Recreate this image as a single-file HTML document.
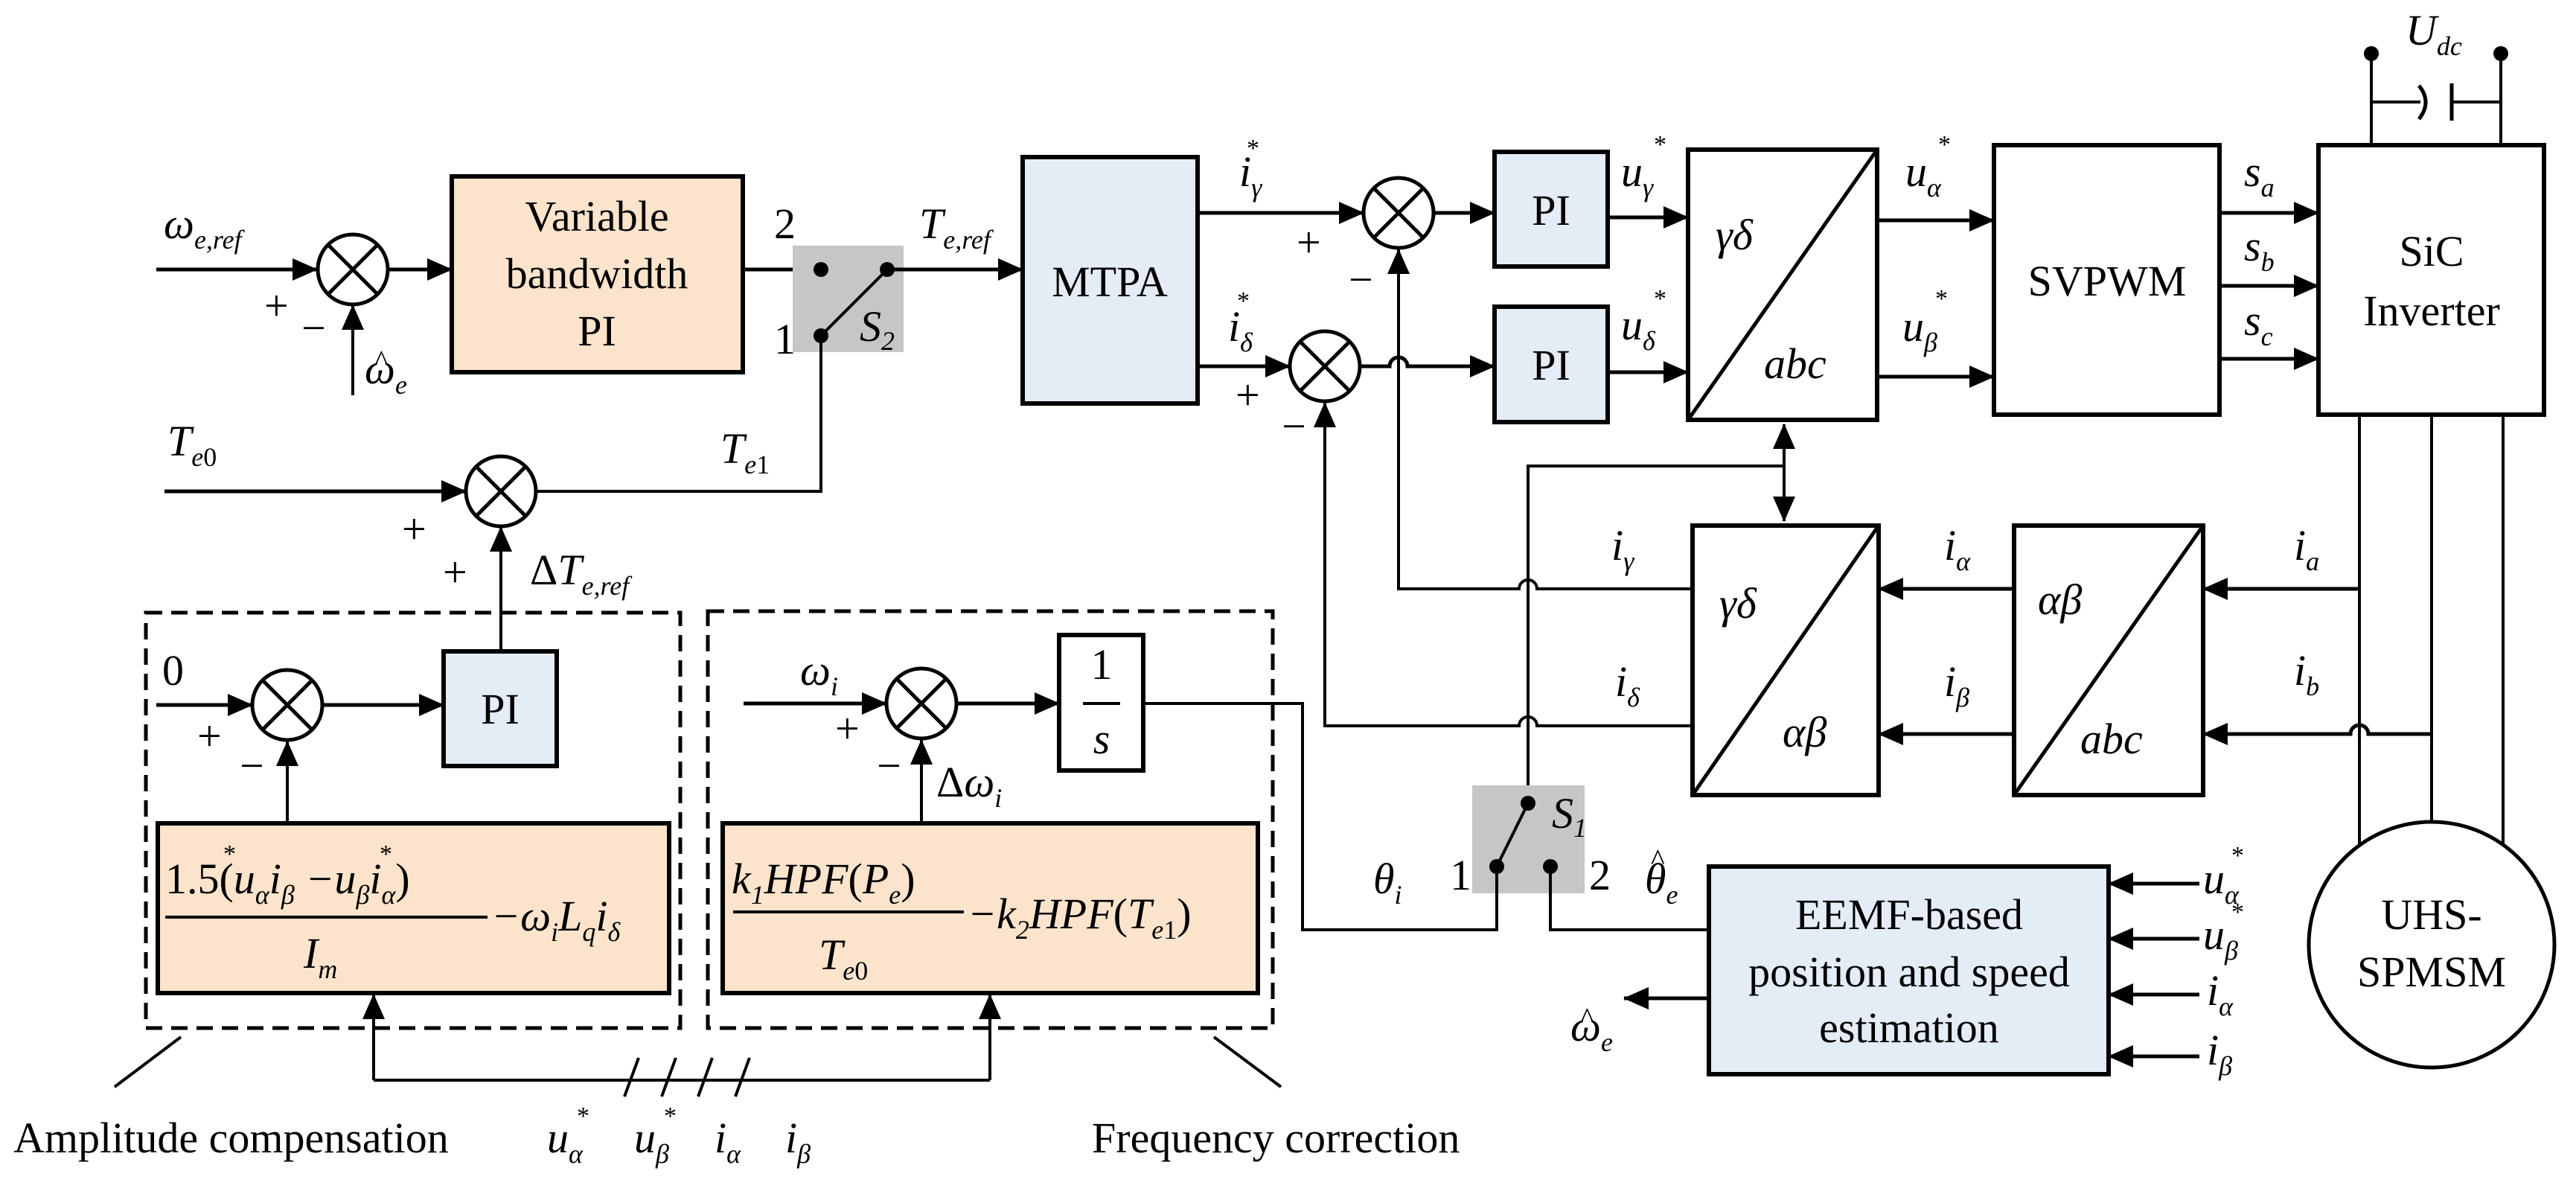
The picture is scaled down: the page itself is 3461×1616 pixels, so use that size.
<!DOCTYPE html>
<html><head><meta charset="utf-8"><style>
html,body{margin:0;padding:0;background:#fff}
svg{display:block}
text{font-family:"Liberation Serif","Times New Roman",serif;fill:#000}
.r{font-size:58px}
.m{font-size:58px;font-style:italic}
.s{font-size:36px;font-style:italic}
.st{font-size:34px}
.h{font-size:40px}
.l{stroke:#000;stroke-width:5;fill:none}
.t{stroke:#000;stroke-width:4;fill:none}
.b{stroke:#000;stroke-width:6}
</style></head><body>
<svg width="3461" height="1616" viewBox="0 0 3461 1616" xmlns="http://www.w3.org/2000/svg">
<defs>
<marker id="a" markerUnits="userSpaceOnUse" markerWidth="34" markerHeight="30" refX="33" refY="15" orient="auto"><path d="M0,0 L34,15 L0,30 z" fill="#000"/></marker>
<marker id="as" markerUnits="userSpaceOnUse" markerWidth="34" markerHeight="30" refX="1" refY="15" orient="auto"><path d="M34,0 L0,15 L34,30 z" fill="#000"/></marker>
<g id="sum"><circle r="47" fill="#fff" stroke="#000" stroke-width="5"/><path d="M-33,-33 L33,33 M-33,33 L33,-33" stroke="#000" stroke-width="5"/></g>
</defs>

<!-- top speed loop -->
<path class="l" d="M210,362 H426" marker-end="url(#a)"/>
<use href="#sum" x="474" y="362"/>
<text class="m" x="220" y="320">ω<tspan class="s" dy="14">e,ref</tspan></text>
<text class="r" x="355" y="430">+</text><text class="r" x="405" y="460">−</text>
<path class="t" d="M474,531 V410" marker-end="url(#a)"/>
<text class="m" x="490" y="515">ω<tspan class="s" dy="14">e</tspan></text><text class="h" x="503" y="498">^</text>
<path class="l" d="M522,362 H607" marker-end="url(#a)"/>
<rect x="607" y="237" width="391" height="263" fill="#fce4cc" class="b"/>
<text class="r" x="802" y="310" text-anchor="middle">Variable</text>
<text class="r" x="802" y="387" text-anchor="middle">bandwidth</text>
<text class="r" x="802" y="464" text-anchor="middle">PI</text>
<path class="l" d="M998,362 H1103"/>
<rect x="1065" y="330" width="149" height="143" fill="#c6c6c6"/>
<path class="t" d="M1103,451 L1192,362"/>
<circle cx="1103" cy="362" r="10"/><circle cx="1192" cy="362" r="10"/><circle cx="1103" cy="451" r="10"/>
<text class="r" x="1040" y="320">2</text><text class="r" x="1040" y="475">1</text>
<text class="m" x="1155" y="458">S<tspan class="s" dy="12" font-style="normal">2</tspan></text>
<path class="l" d="M1192,362 H1374" marker-end="url(#a)"/>
<text class="m" x="1235" y="320">T<tspan class="s" dy="14">e,ref</tspan></text>
<path class="t" d="M1103,451 V660 H721"/>
<path class="l" d="M221,660 H626" marker-end="url(#a)"/>
<use href="#sum" x="673" y="660"/>
<text class="m" x="225" y="612">T<tspan class="s" dy="14">e<tspan font-style="normal">0</tspan></tspan></text>
<text class="m" x="968" y="622">T<tspan class="s" dy="14">e<tspan font-style="normal">1</tspan></tspan></text>
<text class="r" x="540" y="730">+</text><text class="r" x="595" y="788">+</text>
<path class="t" d="M673,875 V708" marker-end="url(#a)"/>
<text class="m" x="712" y="785"><tspan font-style="normal">Δ</tspan>T<tspan class="s" dy="14">e,ref</tspan></text>

<!-- MTPA & current loops -->
<rect x="1374" y="211" width="235" height="331" fill="#e4ecf6" class="b"/>
<text class="r" x="1491" y="398" text-anchor="middle">MTPA</text>
<path class="l" d="M1609,286 H1832" marker-end="url(#a)"/>
<text class="m" x="1665" y="250">i<tspan class="s" dy="14">γ</tspan></text><text class="st" x="1675" y="210">*</text>
<path class="l" d="M1609,492 H1733" marker-end="url(#a)"/>
<text class="m" x="1650" y="458">i<tspan class="s" dy="14">δ</tspan></text><text class="st" x="1662" y="415">*</text>
<text class="r" x="1660" y="550">+</text><text class="r" x="1742" y="345">+</text>
<text class="r" x="1812" y="395">−</text><text class="r" x="1722" y="592">−</text>
<use href="#sum" x="1879" y="286"/>
<use href="#sum" x="1780" y="492"/>
<path class="l" d="M1927,286 H2008" marker-end="url(#a)"/>
<path class="l" d="M1828,492 H1867 a12,12 0 0 1 24,0 H2008" marker-end="url(#a)"/>
<rect x="2008" y="204" width="152" height="154" fill="#e4ecf6" class="b"/>
<rect x="2008" y="412" width="152" height="155" fill="#e4ecf6" class="b"/>
<text class="r" x="2084" y="302" text-anchor="middle">PI</text>
<text class="r" x="2084" y="510" text-anchor="middle">PI</text>
<path class="l" d="M2160,292 H2268" marker-end="url(#a)"/>
<path class="l" d="M2160,500 H2268" marker-end="url(#a)"/>
<text class="m" x="2178" y="250">u<tspan class="s" dy="14">γ</tspan></text><text class="st" x="2222" y="205">*</text>
<text class="m" x="2178" y="456">u<tspan class="s" dy="14">δ</tspan></text><text class="st" x="2222" y="412">*</text>
<rect x="2268" y="201" width="254" height="363" fill="#fff" class="b"/>
<path class="l" d="M2268,564 L2522,201"/>
<text class="m" x="2305" y="335">γδ</text><text class="m" x="2370" y="508">abc</text>
<path class="l" d="M2522,296 H2679" marker-end="url(#a)"/>
<path class="l" d="M2522,506 H2679" marker-end="url(#a)"/>
<text class="m" x="2560" y="250">u<tspan class="s" dy="14">α</tspan></text><text class="st" x="2604" y="205">*</text>
<text class="m" x="2556" y="458">u<tspan class="s" dy="14">β</tspan></text><text class="st" x="2600" y="412">*</text>
<rect x="2679" y="195" width="303" height="362" fill="#fff" class="b"/>
<text class="r" x="2831" y="397" text-anchor="middle">SVPWM</text>
<path class="l" d="M2982,286 H3115" marker-end="url(#a)"/>
<path class="l" d="M2982,384 H3115" marker-end="url(#a)"/>
<path class="l" d="M2982,482 H3115" marker-end="url(#a)"/>
<text class="m" x="3015" y="250">s<tspan class="s" dy="14">a</tspan></text>
<text class="m" x="3015" y="350">s<tspan class="s" dy="14">b</tspan></text>
<text class="m" x="3015" y="450">s<tspan class="s" dy="14">c</tspan></text>
<rect x="3115" y="195" width="303" height="362" fill="#fff" class="b"/>
<text class="r" x="3267" y="357" text-anchor="middle">SiC</text>
<text class="r" x="3267" y="437" text-anchor="middle">Inverter</text>
<!-- Udc -->
<path class="t" d="M3186,72 V195 M3360,72 V195 M3186,137 H3252 M3294,137 H3360"/>
<path class="l" d="M3250,115 Q3268,137 3250,160"/>
<path class="l" d="M3294,112 V162"/>
<circle cx="3186" cy="72" r="10"/><circle cx="3360" cy="72" r="10"/>
<text class="m" x="3232" y="60">U<tspan class="s" dy="14">dc</tspan></text>
<!-- motor -->
<path class="t" d="M3170,557 V1136 M3267,557 V1104 M3363,557 V1136"/>
<circle cx="3267" cy="1269" r="165" fill="#fff" stroke="#000" stroke-width="5"/>
<text class="r" x="3267" y="1248" text-anchor="middle">UHS-</text>
<text class="r" x="3267" y="1325" text-anchor="middle">SPMSM</text>

<!-- feedback -->
<path class="t" d="M2397,570 V700" marker-start="url(#as)" marker-end="url(#a)"/>
<path class="t" d="M2397,626 H2053 V1079"/>
<rect x="2274" y="706" width="250" height="362" fill="#fff" class="b"/>
<path class="l" d="M2274,1068 L2524,706"/>
<text class="m" x="2310" y="830">γδ</text><text class="m" x="2395" y="1003">αβ</text>
<rect x="2706" y="706" width="254" height="362" fill="#fff" class="b"/>
<path class="l" d="M2706,1068 L2960,706"/>
<text class="m" x="2738" y="825">αβ</text><text class="m" x="2795" y="1012">abc</text>
<path class="l" d="M2706,791 H2524" marker-end="url(#a)"/>
<path class="l" d="M2706,986 H2524" marker-end="url(#a)"/>
<path class="l" d="M3170,791 H2960" marker-end="url(#a)"/>
<path class="l" d="M3267,986 H3182 a12,12 0 0 0 -24,0 H2960" marker-end="url(#a)"/>
<text class="m" x="2612" y="752">i<tspan class="s" dy="14">α</tspan></text>
<text class="m" x="2612" y="935">i<tspan class="s" dy="14">β</tspan></text>
<text class="m" x="3082" y="752">i<tspan class="s" dy="14">a</tspan></text>
<text class="m" x="3082" y="920">i<tspan class="s" dy="14">b</tspan></text>
<path class="t" d="M2274,791 H2065 a12,12 0 0 0 -24,0 H1879 V335" marker-end="url(#a)"/>
<path class="t" d="M2274,975 H2065 a12,12 0 0 0 -24,0 H1780 V541" marker-end="url(#a)"/>
<text class="m" x="2165" y="752">i<tspan class="s" dy="14">γ</tspan></text>
<text class="m" x="2170" y="935">i<tspan class="s" dy="14">δ</tspan></text>
<!-- S1 -->
<rect x="1978" y="1055" width="151" height="145" fill="#c6c6c6"/>
<path class="t" d="M2011,1164 L2053,1079"/>
<circle cx="2053" cy="1079" r="10"/><circle cx="2011" cy="1164" r="10"/><circle cx="2083" cy="1164" r="10"/>
<text class="m" x="2085" y="1112">S<tspan class="s" dy="12" font-style="normal">1</tspan></text>
<text class="r" x="1948" y="1195">1</text><text class="r" x="2135" y="1195">2</text>
<text class="m" x="1845" y="1200">θ<tspan class="s" dy="14">i</tspan></text>
<text class="m" x="2210" y="1200">θ<tspan class="s" dy="14">e</tspan></text><text class="h" x="2218" y="1168">^</text>
<path class="t" d="M1536,945 H1750 V1249 H2011 V1164"/>
<path class="t" d="M2083,1164 V1249 H2296"/>
<rect x="2296" y="1164" width="537" height="279" fill="#e4ecf6" class="b"/>
<text class="r" x="2565" y="1248" text-anchor="middle">EEMF-based</text>
<text class="r" x="2565" y="1325" text-anchor="middle">position and speed</text>
<text class="r" x="2565" y="1400" text-anchor="middle">estimation</text>
<path class="l" d="M2296,1341 H2182" marker-end="url(#a)"/>
<text class="m" x="2110" y="1398">ω<tspan class="s" dy="14">e</tspan></text><text class="h" x="2123" y="1381">^</text>
<path class="l" d="M2955,1187 H2833" marker-end="url(#a)"/>
<path class="l" d="M2955,1261 H2833" marker-end="url(#a)"/>
<path class="l" d="M2955,1336 H2833" marker-end="url(#a)"/>
<path class="l" d="M2955,1419 H2833" marker-end="url(#a)"/>
<text class="m" x="2960" y="1200">u<tspan class="s" dy="14">α</tspan></text><text class="st" x="2998" y="1160">*</text>
<text class="m" x="2960" y="1275">u<tspan class="s" dy="14">β</tspan></text><text class="st" x="2998" y="1236">*</text>
<text class="m" x="2965" y="1350">i<tspan class="s" dy="14">α</tspan></text>
<text class="m" x="2965" y="1430">i<tspan class="s" dy="14">β</tspan></text>

<!-- lower left -->
<rect x="196" y="823" width="718" height="558" fill="none" stroke="#000" stroke-width="5" stroke-dasharray="22,12"/>
<rect x="951" y="821" width="759" height="560" fill="none" stroke="#000" stroke-width="5" stroke-dasharray="22,12"/>
<path class="l" d="M210,947 H339" marker-end="url(#a)"/>
<use href="#sum" x="386" y="947"/>
<text class="r" x="218" y="920">0</text>
<text class="r" x="265" y="1008">+</text><text class="r" x="322" y="1048">−</text>
<path class="l" d="M434,947 H596" marker-end="url(#a)"/>
<rect x="596" y="875" width="152" height="154" fill="#e4ecf6" class="b"/>
<text class="r" x="672" y="972" text-anchor="middle">PI</text>
<path class="t" d="M386,1106 V996" marker-end="url(#a)"/>
<rect x="212" y="1106" width="687" height="228" fill="#fce4cc" class="b"/>
<text class="m" x="222" y="1200"><tspan font-style="normal">1.5(</tspan>u<tspan class="s" dy="14">α</tspan><tspan dy="-14">i</tspan><tspan class="s" dy="14">β</tspan><tspan dy="-14"> −u</tspan><tspan class="s" dy="14">β</tspan><tspan dy="-14">i</tspan><tspan class="s" dy="14">α</tspan><tspan dy="-14" font-style="normal">)</tspan></text>
<text class="st" x="300" y="1158">*</text><text class="st" x="510" y="1158">*</text>
<path class="t" d="M222,1232 H655"/>
<text class="m" x="408" y="1300">I<tspan class="s" dy="14">m</tspan></text>
<text class="m" x="660" y="1250">−ω<tspan class="s" dy="14">i</tspan><tspan dy="-14">L</tspan><tspan class="s" dy="14">q</tspan><tspan dy="-14">i</tspan><tspan class="s" dy="14">δ</tspan></text>

<path class="l" d="M999,945 H1191" marker-end="url(#a)"/>
<use href="#sum" x="1238" y="945"/>
<text class="m" x="1075" y="920">ω<tspan class="s" dy="14">i</tspan></text>
<text class="r" x="1122" y="998">+</text><text class="r" x="1178" y="1048">−</text>
<text class="m" x="1258" y="1070"><tspan font-style="normal">Δ</tspan>ω<tspan class="s" dy="14">i</tspan></text>
<path class="l" d="M1286,945 H1423" marker-end="url(#a)"/>
<rect x="1423" y="853" width="113" height="182" fill="#fff" class="b"/>
<text class="r" x="1480" y="912" text-anchor="middle">1</text>
<path class="t" d="M1455,945 H1505"/>
<text class="m" x="1480" y="1012" text-anchor="middle">s</text>
<path class="t" d="M1238,1106 V994" marker-end="url(#a)"/>
<rect x="971" y="1106" width="719" height="228" fill="#fce4cc" class="b"/>
<text class="m" x="983" y="1200">k<tspan class="s" dy="14" font-style="normal">1</tspan><tspan dy="-14">HPF</tspan><tspan font-style="normal">(</tspan>P<tspan class="s" dy="14">e</tspan><tspan dy="-14" font-style="normal">)</tspan></text>
<path class="t" d="M985,1225 H1295"/>
<text class="m" x="1100" y="1302">T<tspan class="s" dy="14">e<tspan font-style="normal">0</tspan></tspan></text>
<text class="m" x="1300" y="1247">−k<tspan class="s" dy="14" font-style="normal">2</tspan><tspan dy="-14">HPF</tspan><tspan font-style="normal">(</tspan>T<tspan class="s" dy="14">e<tspan font-style="normal">1</tspan></tspan><tspan dy="-14" font-style="normal">)</tspan></text>

<path class="t" d="M502,1451 V1336" marker-end="url(#a)"/>
<path class="t" d="M1330,1451 V1336" marker-end="url(#a)"/>
<path class="t" d="M502,1451 H1330"/>
<path class="t" d="M839,1473 L858,1421 M889,1473 L908,1421 M938,1473 L957,1421 M988,1473 L1007,1421"/>
<path class="t" d="M243,1393 L154,1460 M1631,1393 L1721,1460"/>
<text class="r" x="18" y="1548">Amplitude compensation</text>
<text class="r" x="1467" y="1548">Frequency correction</text>
<text class="m" x="735" y="1548">u<tspan class="s" dy="14">α</tspan></text><text class="st" x="775" y="1510">*</text>
<text class="m" x="852" y="1548">u<tspan class="s" dy="14">β</tspan></text><text class="st" x="892" y="1510">*</text>
<text class="m" x="960" y="1548">i<tspan class="s" dy="14">α</tspan></text>
<text class="m" x="1055" y="1548">i<tspan class="s" dy="14">β</tspan></text>
</svg>
</body></html>
